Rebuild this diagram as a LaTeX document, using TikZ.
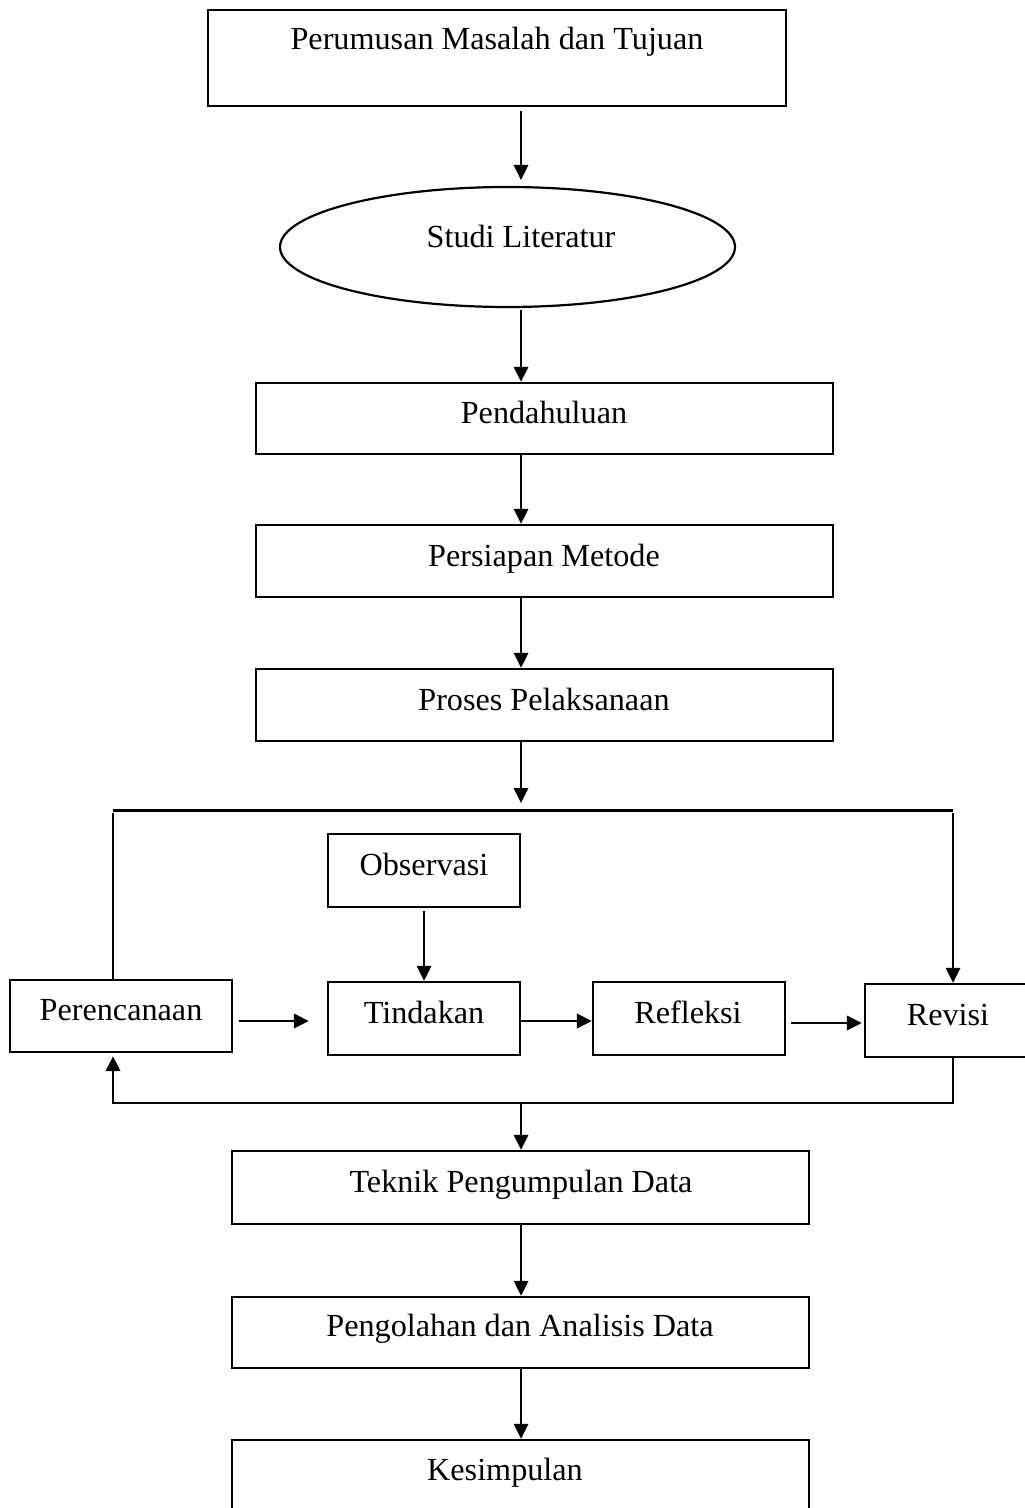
\documentclass[tikz,border=0pt]{standalone}
\usepackage{fontspec}
\setmainfont{Liberation Serif}
\usetikzlibrary{fit,arrows.meta,shapes.geometric}
\begin{document}
\begin{tikzpicture}[x=0.5pt,y=-0.5pt,
  box/.style={draw, line width=1.2pt, inner sep=0pt, rectangle},
  oval/.style={draw, line width=1.1pt, inner sep=0pt, ellipse, minimum width=227.5pt, minimum height=60pt},
  txt/.style={anchor=base, inner sep=0pt, font=\fontsize{16.1pt}{19pt}\selectfont},
  conn/.style={line width=1pt},
  arr/.style={conn, -{Triangle[length=7.5pt,width=7.2pt]}},
  bar/.style={line width=1.5pt}]
\useasboundingbox (0,0) rectangle (1024,1508);
% boxes
\node[box, fit={(208,10) (786,106)}] (perumusan) {};
\node[oval] (studi) at (507.5,247) {};
\node[box, fit={(256,383) (833,454)}] (pend) {};
\node[box, fit={(256,525) (833,597)}] (pers) {};
\node[box, fit={(256,669) (833,741)}] (proses) {};
\node[box, fit={(328,834) (520,907)}] (obs) {};
\node[box, fit={(10,980) (232,1052)}] (perenc) {};
\node[box, fit={(328,982) (520,1055)}] (tind) {};
\node[box, fit={(593,982) (785,1055)}] (refl) {};
\node[box, fit={(865,984) (1040,1057)}] (revisi) {};
\node[box, fit={(232,1151) (809,1224)}] (teknik) {};
\node[box, fit={(232,1297) (809,1368)}] (pengol) {};
\node[box, fit={(232,1440) (809,1530)}] (kesim) {};
% texts
\node[txt] (t1) at (497,50) {Perumusan Masalah dan Tujuan};
\node[txt] (t2) at (521,248) {Studi Literatur};
\node[txt] (t3) at (544,423) {Pendahuluan};
\node[txt] (t4) at (544,566) {Persiapan Metode};
\node[txt] (t5) at (544,710) {Proses Pelaksanaan};
\node[txt] (t6) at (424,875) {Observasi};
\node[txt] (t7) at (121,1020) {Perencanaan};
\node[txt] (t8) at (424,1023) {Tindakan};
\node[txt] (t9) at (688,1023) {Refleksi};
\node[txt] (t10) at (948,1025) {Revisi};
\node[txt] (t11) at (521,1192) {Teknik Pengumpulan Data};
\node[txt] (t12) at (520,1336) {Pengolahan dan Analisis Data};
\node[txt] (t13) at (505,1480) {Kesimpulan};
% helper coordinates
\coordinate (colx) at (521,0);
\coordinate (barL) at (113,810);
\coordinate (barR) at (953,810);
\coordinate (loopL) at (113,1103);
\coordinate (loopR) at (953,1103);
\coordinate (row1) at (0,1021);
\coordinate (row2) at (0,1023);
% connectors
\draw[arr, shorten <=2pt, shorten >=3pt] (perumusan.south -| colx) -- (studi.north -| colx);
\draw[arr, shorten <=1pt] (studi.south -| colx) -- (pend.north -| colx);
\draw[arr] (pend.south -| colx) -- (pers.north -| colx);
\draw[arr] (pers.south -| colx) -- (proses.north -| colx);
\draw[arr, shorten >=3.5pt] (proses.south -| colx) -- (colx |- barL);
\draw[bar] (barL) -- (barR);
\draw[conn] (perenc.north -| barL) -- ([yshift=-1.5pt]barL);
\draw[arr] ([yshift=-1.5pt]barR) -- (revisi.north -| barR);
\draw[arr, shorten <=1.5pt] (obs.south) -- (tind.north);
\draw[arr, line width=1.2pt, shorten <=3pt, shorten >=9pt] (perenc.east |- row1) -- (tind.west |- row1);
\draw[arr, line width=1.2pt] (tind.east |- row1) -- (refl.west |- row1);
\draw[arr, line width=1.2pt, shorten <=2.5pt, shorten >=1pt] (refl.east |- row2) -- (revisi.west |- row2);
\draw[arr, line width=1.2pt, shorten >=1.5pt] (revisi.south -| loopR) -- (loopR) -- (loopL) -- (perenc.south -| loopL);
\draw[arr] (colx |- loopL) -- (teknik.north -| colx);
\draw[arr] (teknik.south -| colx) -- (pengol.north -| colx);
\draw[arr] (pengol.south -| colx) -- (kesim.north -| colx);
\end{tikzpicture}
\end{document}
